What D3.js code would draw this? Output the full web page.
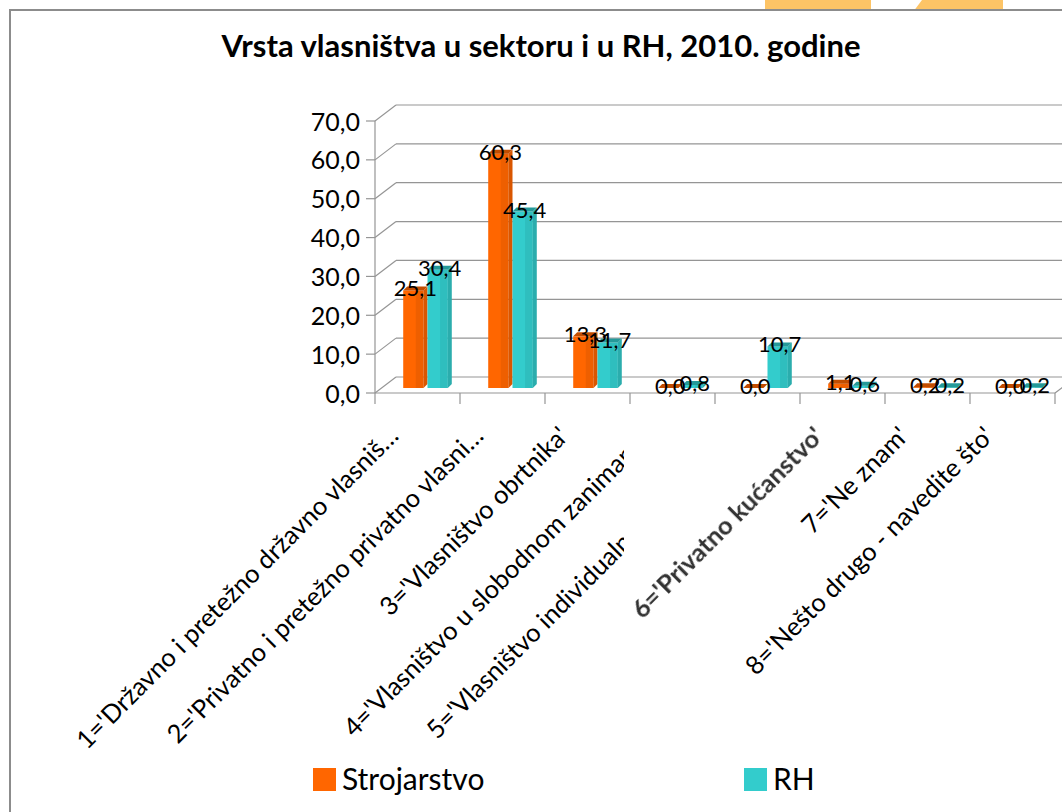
<!DOCTYPE html>
<html>
<head>
<meta charset="utf-8">
<script src="https://cdn.jsdelivr.net/npm/d3@7"></script>
<style>
  body { margin: 0; background: #fff; }
  svg { display: block; }
  text { font-family: Lato, 'Open Sans', sans-serif; fill: #000; }
</style>
</head>
<body>
<div id="chart"></div>
<script>
// Data
const categories = [
  "1='Državno i pretežno državno vlasniš…",
  "2='Privatno i pretežno privatno vlasni…",
  "3='Vlasništvo obrtnika'",
  "4='Vlasništvo u slobodnom zanimanju'",
  "5='Vlasništvo individualnog poljopriv…",
  "6='Privatno kućanstvo'",
  "7='Ne znam'",
  "8='Nešto drugo - navedite što'"
];
const seriesNames = ['Strojarstvo', 'RH'];
const strojarstvo = [25.1, 60.3, 13.3, 0.0, 0.0, 1.1, 0.2, 0.0];
const rh = [30.4, 45.4, 11.7, 0.8, 10.7, 0.6, 0.2, 0.2];
const yTicks = [0, 10, 20, 30, 40, 50, 60, 70];
const title = 'Vrsta vlasništva u sektoru i u RH, 2010. godine';

// Config
const W = 1062, H = 812;
const colors = {
  Strojarstvo: { front: '#FF6600', side: '#D95600', top: '#C24D00' },
  RH: { front: '#33CCCC', side: '#2BADAD', top: '#259999' }
};
const depth = { dx: 21, dy: -16 };     // back wall offset
const barOff = { dx: 10, dy: -5 };     // bars sit in the middle of the depth
const barDepth = 4;
const fmt = v => d3.format('.1f')(v).replace('.', ',');

const svg = d3.select('#chart').append('svg')
  .attr('width', W)
  .attr('height', H);

// background decoration peeking above the chart frame
svg.append('rect').attr('x', 765).attr('y', 0).attr('width', 106).attr('height', 12).attr('fill', '#FDC466');
svg.append('path').attr('d', 'M913,12 L922,0 L1003,0 L1003,12 Z').attr('fill', '#FDC466');

// chart frame
svg.append('rect')
  .attr('x', 10).attr('y', 10)
  .attr('width', W + 20).attr('height', H + 20)
  .attr('fill', '#fff')
  .attr('stroke', '#8c8c8c')
  .attr('stroke-width', 2);

// Title
svg.append('text')
  .attr('x', 541).attr('y', 57)
  .attr('text-anchor', 'middle')
  .attr('font-size', 31)
  .attr('font-weight', 'bold')
  .text(title);

// Scales
const y = d3.scaleLinear().domain([0, 70]).range([393, 121]);
const x = d3.scaleBand().domain(categories).range([375, 1055]);
const xs = d3.scaleBand().domain(seriesNames).range([0, x.bandwidth()])
  .paddingInner(0).paddingOuter(0.75);

const grid = svg.append('g').attr('stroke', '#959595').attr('stroke-width', 1.2).attr('fill', 'none');

// back wall gridlines + side wall diagonals
yTicks.forEach(v => {
  grid.append('line')
    .attr('x1', 375 + depth.dx).attr('y1', y(v) + depth.dy)
    .attr('x2', W + 30).attr('y2', y(v) + depth.dy);
  grid.append('line')
    .attr('x1', 375).attr('y1', y(v))
    .attr('x2', 375 + depth.dx).attr('y2', y(v) + depth.dy);
});

// floor right diagonal
grid.append('line')
  .attr('x1', 1055).attr('y1', y(0))
  .attr('x2', 1055 + depth.dx).attr('y2', y(0) + depth.dy);

// Y axis
grid.append('line').attr('x1', 375).attr('x2', 375).attr('y1', y(70)).attr('y2', y(0));
yTicks.forEach(v => {
  grid.append('line').attr('x1', 366).attr('x2', 375).attr('y1', y(v)).attr('y2', y(v));
});
svg.append('g').selectAll('text')
  .data(yTicks)
  .join('text')
  .attr('x', 360)
  .attr('y', d => y(d))
  .attr('dy', '0.38em')
  .attr('text-anchor', 'end')
  .attr('font-size', 25)
  .text(d => fmt(d));

// X axis
grid.append('line').attr('x1', 375).attr('x2', 1055).attr('y1', y(0)).attr('y2', y(0));
const bounds = categories.map(c => x(c)).concat([x.range()[1]]);
bounds.forEach(b => {
  grid.append('line').attr('x1', b).attr('x2', b).attr('y1', y(0)).attr('y2', y(0) + 11);
});

// Bars
const rows = [];
categories.forEach((c, i) => {
  rows.push({ cat: c, series: 'Strojarstvo', value: strojarstvo[i] });
  rows.push({ cat: c, series: 'RH', value: rh[i] });
});

const barG = svg.append('g');
rows.forEach(d => {
  const w = xs.bandwidth();
  const bx = x(d.cat) + xs(d.series) + barOff.dx;
  const base = y(0) + barOff.dy;
  const top = y(d.value) + barOff.dy;
  const col = colors[d.series];
  const k = barDepth;
  const g = barG.append('g');
  g.append('rect')
    .attr('x', bx).attr('y', top)
    .attr('width', w - k).attr('height', base - top)
    .attr('fill', col.front);
  g.append('rect')
    .attr('x', bx + (w - k) * 0.62).attr('y', top)
    .attr('width', (w - k) * 0.38).attr('height', base - top)
    .attr('fill', col.side).attr('opacity', 0.45);
  g.append('path')
    .attr('d', `M${bx + w - k},${top} L${bx + w},${top - k} L${bx + w},${base - k} L${bx + w - k},${base} Z`)
    .attr('fill', col.side);
  g.append('path')
    .attr('d', `M${bx},${top} L${bx + k},${top - k} L${bx + w},${top - k} L${bx + w - k},${top} Z`)
    .attr('fill', col.top);
});

// Data labels
rows.forEach(d => {
  const w = xs.bandwidth();
  const bx = x(d.cat) + xs(d.series) + barOff.dx;
  svg.append('text')
    .attr('x', bx + w / 2)
    .attr('y', y(d.value) + barOff.dy - 2)
    .attr('dy', '0.36em')
    .attr('text-anchor', 'middle')
    .attr('font-size', 22)
    .text(fmt(d.value));
});

// Category labels
const defs = svg.append('defs');
defs.append('clipPath').attr('id', 'cut')
  .append('rect').attr('x', 0).attr('y', 0).attr('width', 624).attr('height', H);
const blur = defs.append('filter').attr('id', 'soft');
blur.append('feGaussianBlur').attr('stdDeviation', 0.7);

categories.forEach((c, i) => {
  const px = x(c) + x.bandwidth() / 2 - 17.5;
  const py = 437.5;
  const holder = svg.append('g');
  if (i === 3 || i === 4) holder.attr('clip-path', 'url(#cut)');
  const t = holder.append('text')
    .attr('transform', `translate(${px},${py}) rotate(-45)`)
    .attr('text-anchor', 'end')
    .attr('font-size', 25.5)
    .text(c);
  if (i === 5) t.attr('filter', 'url(#soft)').attr('font-weight', 'bold').style('fill', '#333');
});

// Legend
const legend = svg.append('g');
[{ name: 'Strojarstvo', x: 313 }, { name: 'RH', x: 744 }].forEach(l => {
  legend.append('rect')
    .attr('x', l.x).attr('y', 768)
    .attr('width', 23).attr('height', 23)
    .attr('fill', colors[l.name].front);
  legend.append('text')
    .attr('x', l.x + 29).attr('y', 790)
    .attr('font-size', 30)
    .text(l.name);
});
</script>
</body>
</html>
